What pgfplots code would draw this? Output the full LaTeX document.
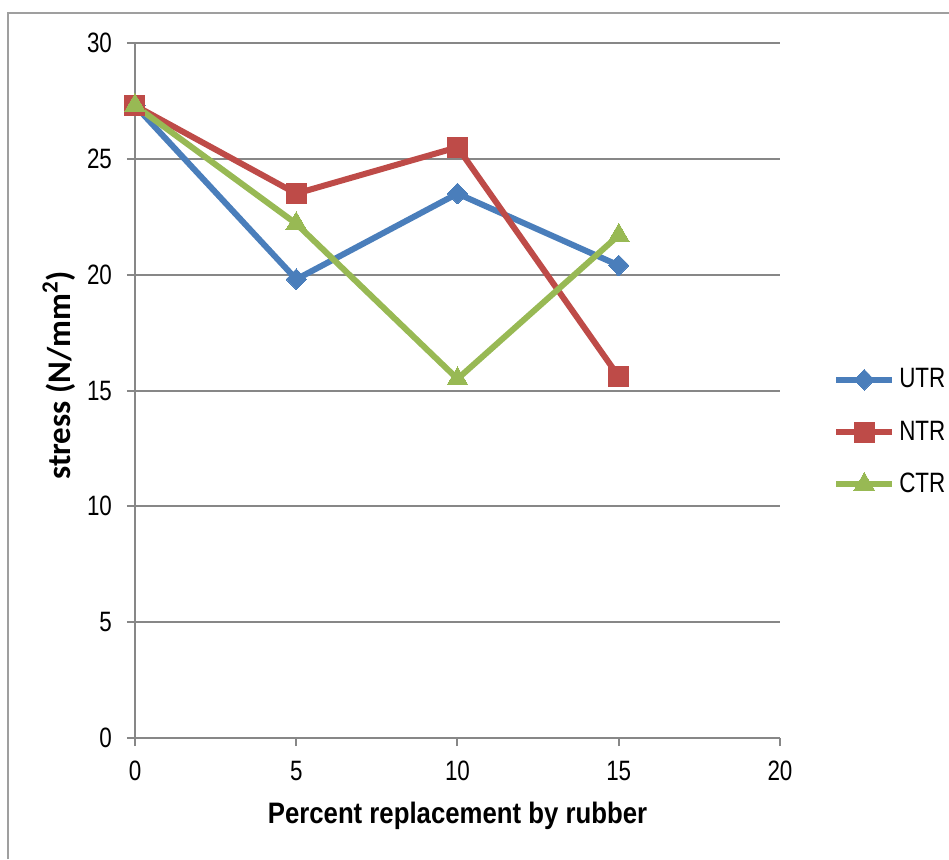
\documentclass[border=0pt]{standalone}
\usepackage{fontspec}
\usepackage{pgfplots}
\pgfplotsset{compat=1.18}
\setmainfont{Liberation Sans}
\newfontfamily\narrowfont[FakeStretch=0.8]{Liberation Sans}
\newfontfamily\labelfont[FakeStretch=0.87]{Liberation Sans}
\newfontfamily\calibri{Carlito}
\definecolor{utr}{HTML}{4A7EBB}
\definecolor{ntr}{HTML}{BE4B48}
\definecolor{ctr}{HTML}{98B954}
\definecolor{gridgray}{HTML}{878787}
\begin{document}
\begin{tikzpicture}
% 1 px of the reference = 0.5pt
\useasboundingbox (0pt,0pt) rectangle (474.5pt,429.5pt);
% outer chart frame (only left and top edges are visible)
\draw[gridgray!80, line width=1pt] (4pt,0pt) -- (4pt,423pt) -- (474.5pt,423pt);
\begin{axis}[
  at={(67.5pt,60.5pt)}, anchor=south west,
  scale only axis,
  width=322.5pt, height=347.5pt,
  xmin=0, xmax=20, ymin=0, ymax=30,
  xtick={0,5,10,15,20}, ytick={0,5,...,30},
  axis x line*=bottom, axis y line*=left,
  axis line style={gridgray, line width=1pt, -},
  ymajorgrids, grid style={gridgray, line width=1pt},
  tick align=outside, major tick length=4pt,
  tick style={gridgray, line width=1pt},
  ticklabel style={font=\fontsize{14}{16}\narrowfont},
  /pgf/number format/assume math mode=true,
  xticklabel style={yshift=-4pt},
  yticklabel style={xshift=-4pt},
  xlabel={\fontsize{14.8}{17}\labelfont\bfseries Percent replacement by rubber},
  ylabel={\fontsize{16.5}{19}\calibri\bfseries stress (N/mm\textsuperscript{2})},
  xlabel style={yshift=-3.5pt},
  ylabel style={at={(ticklabel cs:0.522)}, yshift=-1pt},
  clip=false,
  every axis plot/.append style={line width=3pt},
  legend style={at={(rel axis cs:1.082,0.44)}, anchor=west, draw=none, fill=none,
    font=\fontsize{14}{16}\narrowfont, row sep=11pt, inner sep=0pt,
    /tikz/every even column/.append style={column sep=0pt}},
  legend cell align=left,
  legend image code/.code={
    \draw[mark repeat=2, mark phase=2] plot coordinates {(0pt,0pt) (14pt,0pt) (28pt,0pt)};},
]
\addplot[color=utr, mark=diamond*, mark size=5.2pt, mark options={solid, line width=0pt, xscale=1.3}]
  coordinates {(0,27.3) (5,19.8) (10,23.5) (15,20.4)};
\addplot[color=ntr, mark=square*, mark size=5pt, mark options={solid, line width=0pt}]
  coordinates {(0,27.3) (5,23.5) (10,25.5) (15,15.6)};
\addplot[color=ctr, mark=triangle*, mark size=6pt, mark options={solid, line width=0pt}]
  coordinates {(0,27.3) (5,22.2) (10,15.5) (15,21.7)};
\legend{UTR, NTR, CTR}
\end{axis}
\end{tikzpicture}
\end{document}
